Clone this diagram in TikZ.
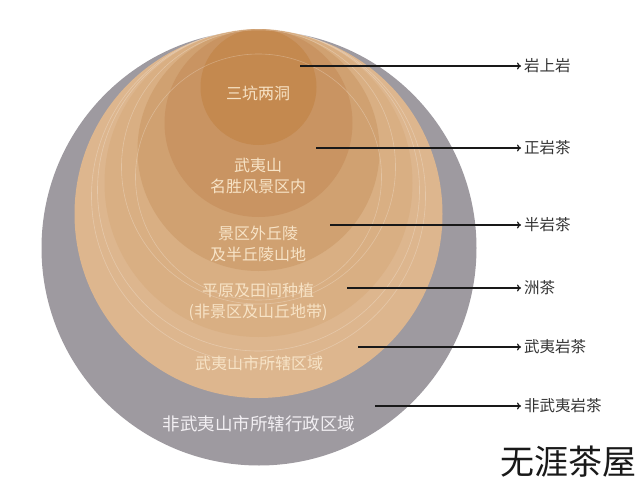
\documentclass[tikz,border=0pt]{standalone}
\usepackage{fontspec}
\newfontfamily\cjk{Noto Sans CJK SC}
\usepackage{tikz}
\usetikzlibrary{arrows.meta}

\definecolor{ringgray}{HTML}{9E9AA0}
\definecolor{zoneA}{HTML}{DDB68E}
\definecolor{zoneB}{HTML}{D9AF83}
\definecolor{zoneC}{HTML}{D0A171}
\definecolor{zoneD}{HTML}{C99462}
\definecolor{zoneE}{HTML}{C4894F}
\definecolor{zonetext}{HTML}{F7E3C6}
\definecolor{outtext}{HTML}{F2EFF3}
\definecolor{tagtext}{HTML}{333333}

\tikzset{
    zone/.style={font=\cjk\fontsize{16}{21}\selectfont, text=zonetext, align=center, inner sep=0pt},
    tag/.style={font=\cjk\fontsize{15.5}{18}\selectfont, text=tagtext, anchor=west, inner sep=3pt},
    pointer/.style={line width=1.2pt, draw=black!90, -{To[length=4pt,width=7pt]}}
}

\begin{document}
\begin{tikzpicture}[x=1pt,y=-1pt]
\useasboundingbox (0,0) rectangle (640,482);

\fill[ringgray] (259,248) circle (217.5pt);

\foreach \c/\y/\r in {
zoneA/214/184,
zoneB/183/154,
zoneC/150/121,
zoneD/123/94,
zoneE/87/58%
}
{
    \fill[\c] (258.5,\y) circle[radius=\r pt];
}

\foreach \y/\r in {
196/167,
190/161,
177/123,
167/137%
}
{
    \draw[white, opacity=0.25, line width=0.6pt] (258.5,\y) circle[radius=\r pt];
}

\node[zone] (keng) at (258,93) {三坑两洞};
\node[zone] (scenic) at (258,176) {武夷山\\名胜风景区内};
\node[zone] (hill) at (258,244) {景区外丘陵\\及半丘陵山地};
\node[zone] (plain) at (258,302) {平原及田间种植\\(非景区及山丘地带)};
\node[zone] (city) at (259,363) {武夷山市所辖区域};
\node[zone, text=outtext, font=\cjk\fontsize{17.5}{21}\selectfont] (outside) at (259,424) {非武夷山市所辖行政区域};

\foreach \n/\x/\y/\t in {
yan/300/66/岩上岩,
zheng/316/148/正岩茶,
ban/330/225/半岩茶,
zhou/347/288/洲茶,
wuyi/358/347/武夷岩茶,
fei/375/406/非武夷岩茶%
}
{
    \coordinate (\n-s) at (\x,\y);
    \node[tag] (\n) at (521,\y) {\t};
    \draw[pointer] (\n-s) -- (\n.west);
}

\node[font=\cjk\fontsize{34}{40}\selectfont, text=black!90, inner sep=0pt] (mark) at (568,462) {无涯茶屋};

\end{tikzpicture}
\end{document}
